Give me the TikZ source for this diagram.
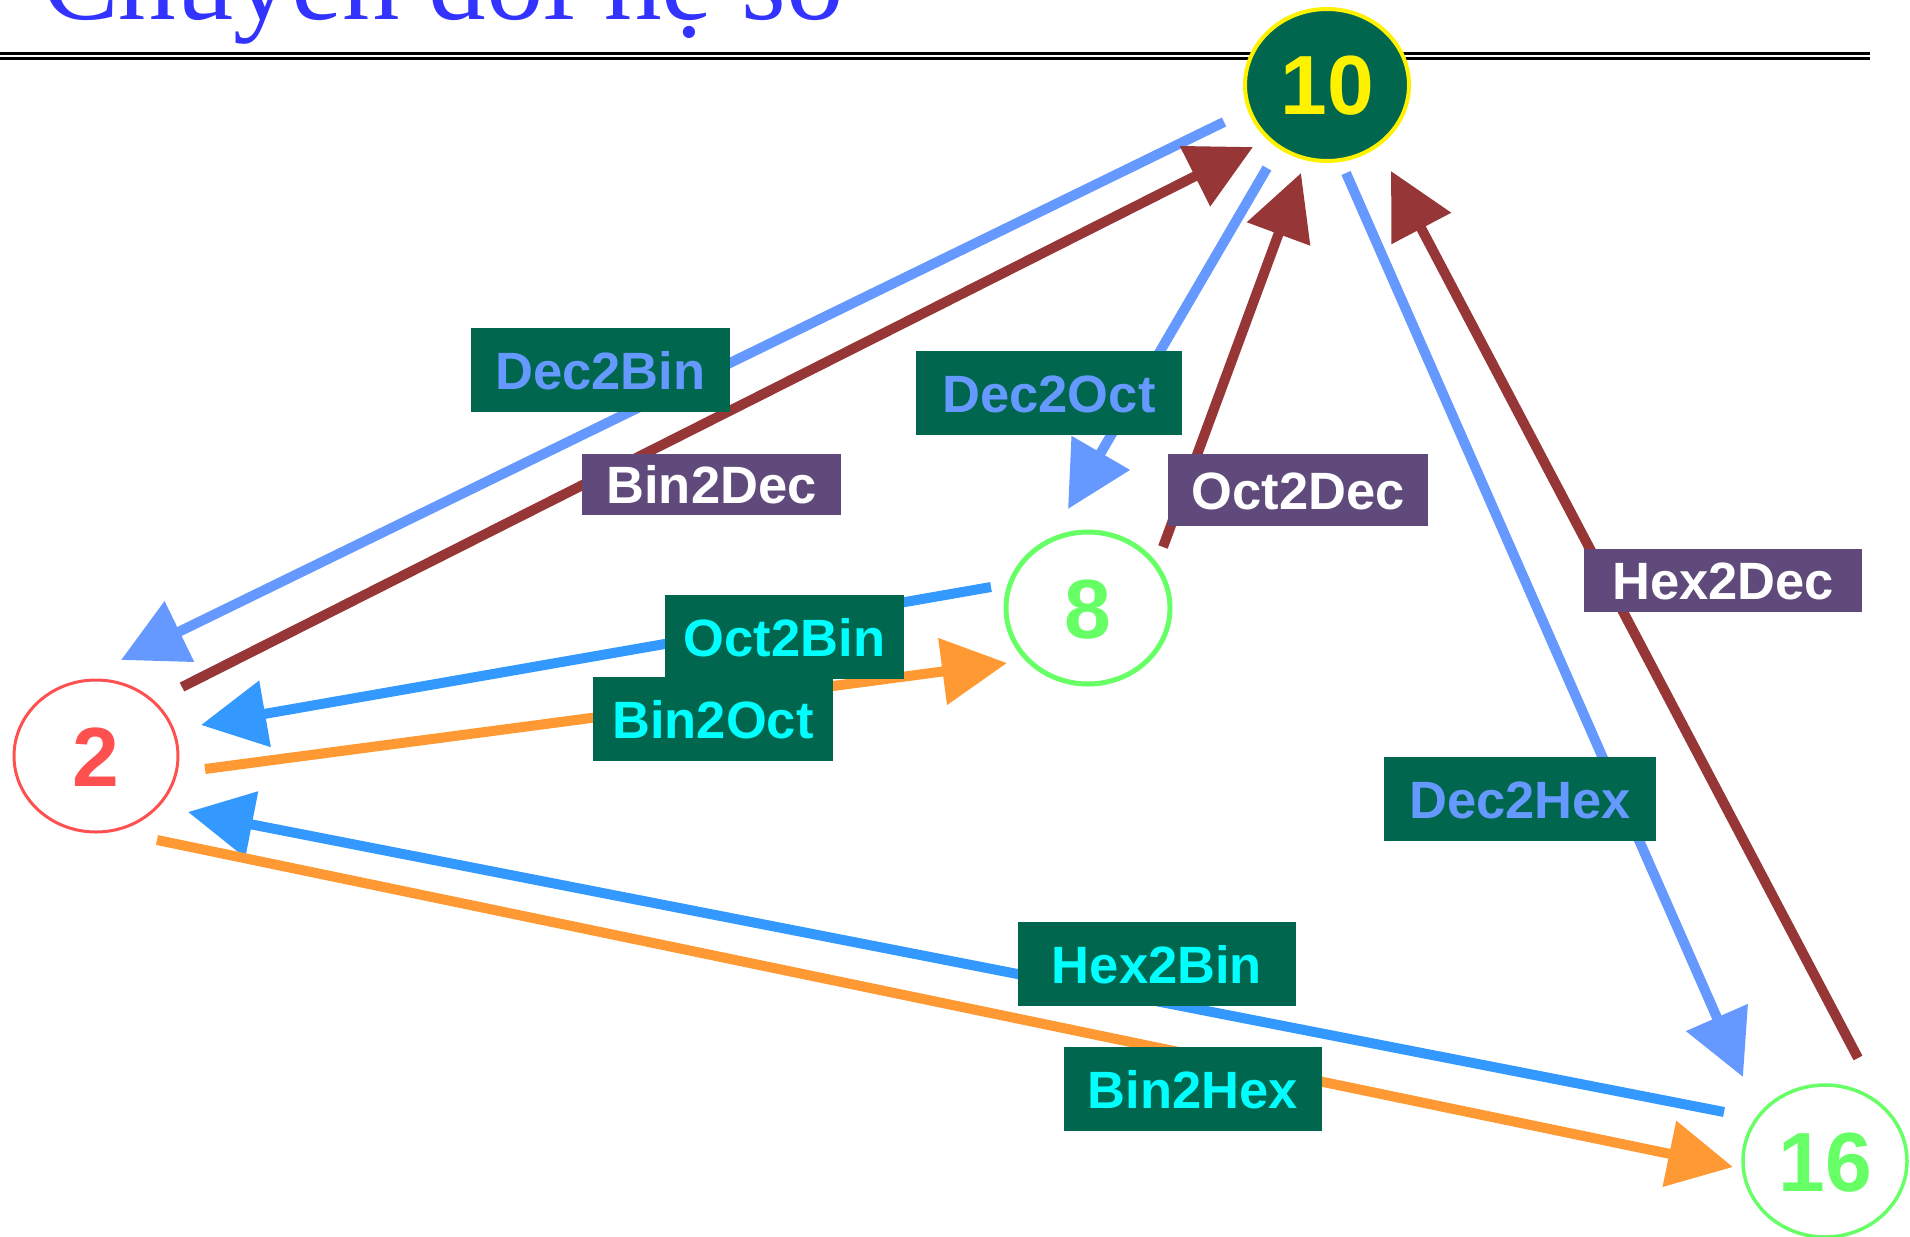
\documentclass[tikz,border=0pt]{standalone}
\usepackage{fontspec}
\setmainfont{Liberation Serif}
\setsansfont{Liberation Sans}
\usetikzlibrary{shapes.geometric,arrows.meta}
\definecolor{lblue}{RGB}{102,153,255}
\definecolor{brn}{RGB}{150,54,54}
\definecolor{mblue}{RGB}{51,153,255}
\definecolor{orng}{RGB}{255,153,51}
\definecolor{dgreen}{RGB}{0,102,77}
\definecolor{purp}{RGB}{96,74,123}
\definecolor{ngreen}{RGB}{102,255,102}
\definecolor{nred}{RGB}{255,80,80}
\definecolor{ttl}{RGB}{51,51,255}
\definecolor{lcyan}{RGB}{0,255,255}
\begin{document}
\begin{tikzpicture}[x=1pt,y=-1pt,
  conn/.style={line width=10pt, -{Triangle[length=65pt,width=65pt]}},
  lab/.style={rectangle, inner sep=0pt, outer sep=0pt,
    font=\sffamily\bfseries\fontsize{52.5}{60}\selectfont,
    text height=38pt, text depth=0pt},
  gbox/.style={lab, fill=dgreen, minimum height=84pt},
  pbox/.style={lab, fill=purp, text=white},
  numnode/.style={ellipse, minimum width=164pt, minimum height=152pt,
    inner sep=0pt, outer sep=0pt,
    font=\sffamily\bfseries\fontsize{84}{90}\selectfont,
    text height=60pt, text depth=0pt},
]
\useasboundingbox (0,0) rectangle (1910,1236);
\clip (0,0) rectangle (1910,1236);

% title and rule
\node[anchor=base west, inner sep=0pt, text=ttl,
  font=\fontsize{115}{120}\selectfont] (title) at (42,20) {Chuyển đổi hệ số};
\draw[line width=3pt] (0,53.5) -- (1870,53.5);
\draw[line width=3pt] (0,59) -- (1870,59);

% end points of connectors
\coordinate (d2b-s) at (1224,122);  \coordinate (d2b-e) at (121,660);
\coordinate (b2d-s) at (182,687);   \coordinate (b2d-e) at (1253,147);
\coordinate (d2o-s) at (1267,168);  \coordinate (d2o-e) at (1068,509);
\coordinate (o2d-s) at (1163,547);  \coordinate (o2d-e) at (1301,173);
\coordinate (d2h-s) at (1346,173);  \coordinate (d2h-e) at (1743,1077);
\coordinate (h2d-s) at (1858,1058); \coordinate (h2d-e) at (1391,171);
\coordinate (o2b-s) at (991,587);   \coordinate (o2b-e) at (201,725);
\coordinate (b2o-s) at (205,769);   \coordinate (b2o-e) at (1007,663);
\coordinate (h2b-s) at (1724,1112); \coordinate (h2b-e) at (188,812);
\coordinate (b2h-s) at (157,840);   \coordinate (b2h-e) at (1733,1167);

% connectors
\draw[conn, draw=lblue, fill=lblue] (d2b-s) -- (d2b-e);
\draw[conn, draw=brn, fill=brn] (b2d-s) -- (b2d-e);
\draw[conn, draw=lblue, fill=lblue] (d2o-s) -- (d2o-e);
\draw[conn, draw=brn, fill=brn] (o2d-s) -- (o2d-e);
\draw[conn, draw=lblue, fill=lblue] (d2h-s) -- (d2h-e);
\draw[conn, draw=brn, fill=brn] (h2d-s) -- (h2d-e);
\draw[conn, draw=mblue, fill=mblue] (o2b-s) -- (o2b-e);
\draw[conn, draw=orng, fill=orng] (b2o-s) -- (b2o-e);
\draw[conn, draw=mblue, fill=mblue] (h2b-s) -- (h2b-e);
\draw[conn, draw=orng, fill=orng] (b2h-s) -- (b2h-e);

% labels
\node[gbox, text=lblue, minimum width=259pt] (lDec2Bin) at (600.5,370) {Dec2Bin};
\node[pbox, minimum width=259pt, minimum height=61pt] (lBin2Dec) at (711.5,484.5) {Bin2Dec};
\node[gbox, text=lblue, minimum width=266pt] (lDec2Oct) at (1049,393) {Dec2Oct};
\node[pbox, minimum width=260pt, minimum height=72pt] (lOct2Dec) at (1298,490) {Oct2Dec};
\node[gbox, text=lcyan, minimum width=239pt] (lOct2Bin) at (784.5,637) {Oct2Bin};
\node[gbox, text=lcyan, minimum width=240pt] (lBin2Oct) at (713,719) {Bin2Oct};
\node[pbox, minimum width=278pt, minimum height=63pt] (lHex2Dec) at (1723,580.5) {Hex2Dec};
\node[gbox, text=lblue, minimum width=272pt] (lDec2Hex) at (1520,799) {Dec2Hex};
\node[gbox, text=lcyan, minimum width=278pt] (lHex2Bin) at (1157,964) {Hex2Bin};
\node[gbox, text=lcyan, minimum width=258pt] (lBin2Hex) at (1193,1089) {Bin2Hex};

% number nodes
\node[numnode, draw=yellow, line width=4pt, fill=dgreen, text=yellow] (n10) at (1327,85) {10};
\node[numnode, draw=ngreen, line width=5pt, text=ngreen] (n8) at (1088,608) {8};
\node[numnode, draw=nred, line width=3pt, text=nred] (n2) at (96,756) {2};
\node[numnode, draw=ngreen, line width=3.5pt, text=ngreen] (n16) at (1825,1161) {16};
\end{tikzpicture}
\end{document}
